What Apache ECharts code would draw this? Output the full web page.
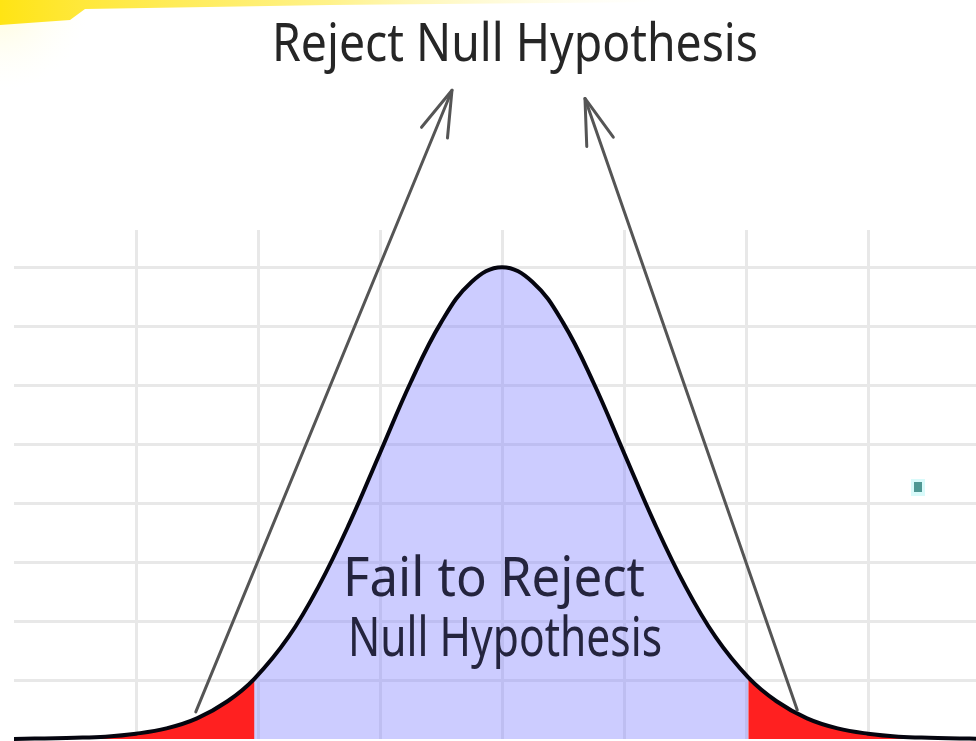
<!DOCTYPE html>
<html><head><meta charset="utf-8">
<script src="https://cdn.jsdelivr.net/npm/echarts@6/dist/echarts.min.js"></script>
<style>html,body{margin:0;padding:0;background:#fff;overflow:hidden}#c{width:976px;height:741px}</style>
</head><body><div id="c"></div>
<script>
// ---- data (x in standard deviations, y in grid rows) ----
const zValues = [-4, -3.75, -3.5, -3.25, -3, -2.75, -2.5, -2.25, -2.03, -1.75, -1.5, -1.25, -1, -0.75, -0.5, -0.25,
                 0, 0.25, 0.5, 0.75, 1, 1.25, 1.5, 1.75, 2.02, 2.25, 2.5, 2.75, 3, 3.25, 3.5, 3.75, 4];
const densityValues = [0.00, 0.01, 0.02, 0.04, 0.09, 0.18, 0.35, 0.64, 1.02, 1.73, 2.60, 3.66, 4.85, 6.04, 7.06, 7.75,
                       8.00, 7.75, 7.06, 6.04, 4.85, 3.66, 2.60, 1.73, 1.04, 0.64, 0.35, 0.18, 0.09, 0.04, 0.02, 0.01, 0.00];
const criticalLow = -2.03;
const criticalHigh = 2.02;
const xRange = [-4, 3.885];
const yRange = [0, 8.63];
const topLabel = 'Reject Null Hypothesis';
const middleLabelLines = ['Fail to Reject', 'Null Hypothesis'];
// annotation arrows (data coordinates): tail on the curve, tip near the title
const arrowTails = [[-2.51, 0.46], [2.42, 0.49]];
const arrowTips = [[-0.41, 11.0], [0.68, 10.86]];

// ---- build ----
const curve = zValues.map((z, i) => [z, densityValues[i]]);
const leftTail = curve.filter(p => p[0] <= criticalLow);
const middle = curve.filter(p => p[0] >= criticalLow && p[0] <= criticalHigh);
const rightTail = curve.filter(p => p[0] >= criticalHigh);

const chart = echarts.init(document.getElementById('c'), null, {renderer: 'canvas'});
const split = {show: true, showMinLine: false, showMaxLine: false, lineStyle: {color: '#e8e8e8', width: 3}};
const SM = 0.4;
function area(data, color) {
  return {type: 'line', data, smooth: SM, symbol: 'none', clip: false, silent: true,
          lineStyle: {width: 0}, areaStyle: {color, opacity: 1}, z: 2};
}
chart.setOption({
  animation: false,
  backgroundColor: '#ffffff',
  grid: {left: 14, top: 230, right: 0, bottom: 2, containLabel: false},
  xAxis: {type: 'value', min: xRange[0], max: xRange[1], interval: 1,
          axisLine: {show: false}, axisTick: {show: false}, axisLabel: {show: false}, splitLine: split},
  yAxis: {type: 'value', min: yRange[0], max: yRange[1], interval: 1,
          axisLine: {show: false}, axisTick: {show: false}, axisLabel: {show: false}, splitLine: split},
  series: [
    area(leftTail, 'rgba(255,20,20,0.95)'),
    area(middle, 'rgba(120,120,255,0.38)'),
    area(rightTail, 'rgba(255,20,20,0.95)'),
    {type: 'line', data: curve, smooth: SM, symbol: 'none', clip: false, silent: true,
     lineStyle: {color: '#05050f', width: 4}, z: 3}
  ]
});

// ---- annotations ----
const measureCtx = document.createElement('canvas').getContext('2d');
function scaleFor(text, font, target) {
  measureCtx.font = font;
  return target / measureCtx.measureText(text).width;
}
function textEl(text, size, cx, cy, targetW, color) {
  const font = size + 'px "Noto Sans"';
  return {type: 'text', x: cx, y: cy, scaleX: scaleFor(text, font, targetW), z: 10,
          style: {text, font, fill: color, align: 'center', verticalAlign: 'middle'}};
}
function arrowEls(tailD, tipD) {
  const a = chart.convertToPixel({gridIndex: 0}, tailD);
  const b = chart.convertToPixel({gridIndex: 0}, tipD);
  const dx = a[0] - b[0], dy = a[1] - b[1], L = Math.hypot(dx, dy);
  const ux = dx / L, uy = dy / L, len = 48, ang = 17 * Math.PI / 180;
  const rot = s => [b[0] + len * (ux * Math.cos(s * ang) - uy * Math.sin(s * ang)),
                    b[1] + len * (ux * Math.sin(s * ang) + uy * Math.cos(s * ang))];
  const st = {stroke: '#555', lineWidth: 3, fill: null, lineCap: 'round', lineJoin: 'round'};
  return [
    {type: 'polyline', shape: {points: [a, b]}, style: st, z: 9},
    {type: 'polyline', shape: {points: [rot(1), b, rot(-1)]}, style: st, z: 9}
  ];
}
const graphics = [
  {type: 'polygon', shape: {points: [[0, 0], [660, 0], [660, 2], [330, 5], [85, 9], [70, 20], [0, 25]]},
   style: {fill: new echarts.graphic.LinearGradient(0, 0, 1, 0, [
     {offset: 0, color: '#ffe414'}, {offset: 0.12, color: '#ffe83a'},
     {offset: 0.5, color: '#fff28a'}, {offset: 1, color: 'rgba(255,252,220,0)'}])}, z: 8},
  {type: 'rect', shape: {x: 0, y: 0, width: 260, height: 90},
   style: {fill: new echarts.graphic.RadialGradient(0, 0, 1, [
     {offset: 0, color: 'rgba(255,246,160,0.45)'}, {offset: 1, color: 'rgba(255,255,235,0)'}])}, z: 7},
  {type: 'rect', shape: {x: 911, y: 479, width: 14, height: 17}, style: {fill: 'rgba(170,245,245,0.45)'}, z: 8},
  {type: 'rect', shape: {x: 914, y: 482, width: 8, height: 10}, style: {fill: '#4f9793'}, z: 9},
  textEl(topLabel, 52, 515, 46, 486, '#262626'),
  textEl(middleLabelLines[0], 54, 494, 581, 302, '#24243e'),
  textEl(middleLabelLines[1], 54, 505, 641, 314, '#24243e')
];
arrowTails.forEach((t, i) => graphics.push(...arrowEls(t, arrowTips[i])));
chart.setOption({graphic: graphics});
</script>
</body></html>
